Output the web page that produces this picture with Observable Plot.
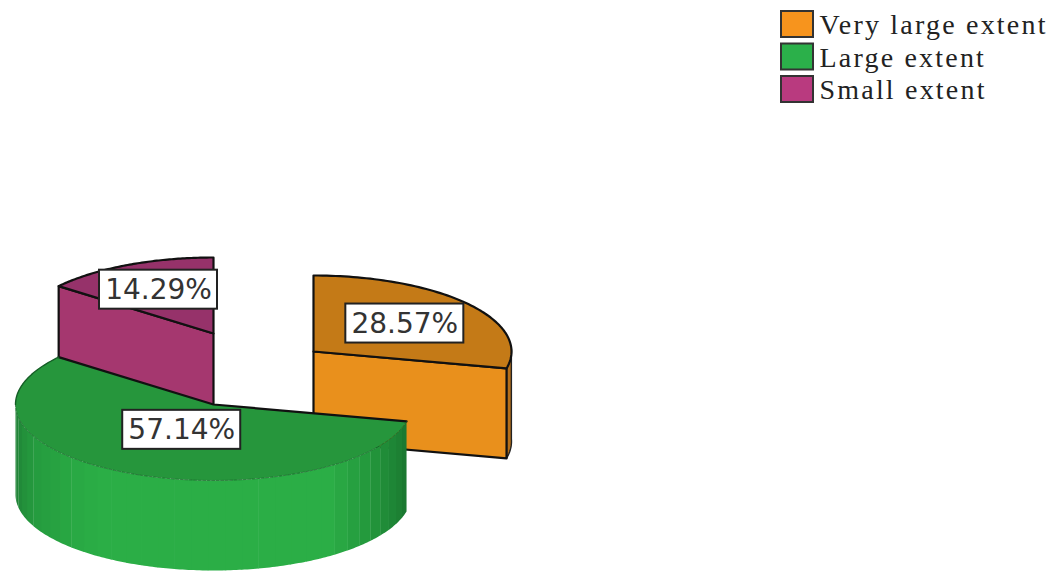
<!DOCTYPE html>
<html>
<head>
<meta charset="utf-8">
<script src="https://cdn.jsdelivr.net/npm/d3@7"></script>
<script src="https://cdn.jsdelivr.net/npm/@observablehq/plot@0.6"></script>
<style>
  html, body { margin: 0; padding: 0; background: #fff; }
  svg { display: block; }
  .legend-text text { letter-spacing: 2.2px; }
</style>
</head>
<body>
<div id="chart"></div>
<script>
// Responses, in clockwise order from twelve o'clock
const categories = ["Very large extent", "Large extent", "Small extent"];
const shares = [28.57, 57.14, 14.29];

// Colours per category
const legendFills = ["#F7941D", "#2BB04A", "#B93A7F"];
const topFills = ["#C47A17", "#26963C", "#96326A"];
const faceFills = ["#E9901C", "#2BAE46", "#A5376F"];

// Tilted-disc geometry and how far each wedge is pulled out of the pie
const W = 1063, H = 571;
const centre = [213, 404], rx = 198, ry = 76, depth = 90;
const pullX = [100, 0, 0];
const pullY = [-53, 0, -71];
const labelReach = [0.59, 0.37, 0.64];
const labelHalfW = 59, labelHalfH = 19.5;

const toRad = Math.PI / 180;
const pie = d3.pie().sort(null).value(d => d)(shares);

const rim = (i, a, drop = 0) => ({
  x: centre[0] + pullX[i] + rx * Math.sin(a),
  y: centre[1] + pullY[i] - ry * Math.cos(a) + drop
});
const apex = (i, drop = 0) => ({x: centre[0] + pullX[i], y: centre[1] + pullY[i] + drop});
const arcPoints = (i, a0, a1, drop = 0, n = 80) =>
  d3.range(n + 1).map(k => rim(i, a0 + (a1 - a0) * k / n, drop));

// One filled outline per visible surface
const poly = (points, fill, stroke = "none", strokeWidth = 2.2) =>
  Plot.line(points, {x: "x", y: "y", fill, stroke, strokeWidth, curve: "linear-closed"});
const open = (points, stroke, strokeWidth, extra = {}) =>
  Plot.line(points, {x: "x", y: "y", stroke, strokeWidth, ...extra});

function cutFace(i, a) {
  return poly([apex(i), rim(i, a), rim(i, a, depth), apex(i, depth)], faceFills[i], "#111");
}
function topFace(i, stroke = "#111") {
  return poly([apex(i), ...arcPoints(i, pie[i].startAngle, pie[i].endAngle)], topFills[i], stroke);
}

// Banded shading along the green outer wall: dark at both ends, bright in the middle
function greenWall() {
  const a0 = pie[1].startAngle, a1 = 270 * toRad, bands = 34;
  const shade = d3.scaleLinear()
    .domain([0, 0.12, 0.25, 0.67, 0.85, 0.95, 1])
    .range(["#1A7630", "#219039", "#2BAE46", "#2BAE46", "#259B3E", "#208537", "#1F7F34"]);
  return d3.range(bands).map(b => {
    const s = a0 + (a1 - a0) * b / bands, e = a0 + (a1 - a0) * (b + 1.03) / bands;
    const top = arcPoints(1, s, e, 0, 6);
    const bottom = arcPoints(1, e, s, depth, 6);
    return poly([...top, ...bottom], shade((b + 0.5) / bands));
  });
}

// Value boxes sit along each wedge's bisector
const labels = pie.map((p, i) => {
  const mid = (p.startAngle + p.endAngle) / 2;
  const cx = centre[0] + pullX[i] + labelReach[i] * rx * Math.sin(mid);
  const cy = centre[1] + pullY[i] - labelReach[i] * ry * Math.cos(mid);
  return {
    text: shares[i].toFixed(2) + "%", cx, cy,
    x1: cx - labelHalfW, x2: cx + labelHalfW, y1: cy - labelHalfH, y2: cy + labelHalfH
  };
});

// Legend rows
const legend = categories.map((name, i) => ({
  name, fill: legendFills[i],
  x1: 781, x2: 813, y1: 11 + i * 32.5, y2: 37 + i * 32.5, ty: 25 + i * 32.5
}));

const chart = Plot.plot({
  width: W,
  height: H,
  margin: 0,
  x: {axis: null, domain: [0, W]},
  y: {axis: null, domain: [H, 0]},
  marks: [
    // Small extent, furthest back
    cutFace(2, pie[2].startAngle),
    topFace(2),
    // Very large extent: outer wall sliver, cut face, top
    poly([...arcPoints(0, 88 * toRad, pie[0].endAngle, 0, 12), ...arcPoints(0, pie[0].endAngle, 88 * toRad, depth, 12)], "#B5701A", "#222", 1.4),
    cutFace(0, pie[0].endAngle),
    topFace(0),
    // Large extent, in front of everything
    ...greenWall(),
    topFace(1, "none"),
    open([rim(1, pie[1].endAngle), apex(1), rim(1, pie[1].startAngle)], "#111", 2.2),
    open(arcPoints(1, 270 * toRad, pie[1].endAngle, 0, 30), "#155E26", 1.4),
    open(arcPoints(1, pie[1].startAngle, 270 * toRad), "#155E26", 0.8, {strokeDasharray: "3 1.5", strokeOpacity: 0.8}),
    // Value boxes
    Plot.rect(labels, {x1: "x1", x2: "x2", y1: "y1", y2: "y2", fill: "#fff", stroke: "#222", strokeWidth: 2}),
    Plot.text(labels, {x: "cx", y: "cy", text: "text", fontFamily: "DejaVu Sans", fontSize: 28, fill: "#333"}),
    // Legend
    Plot.rect(legend, {x1: "x1", x2: "x2", y1: "y1", y2: "y2", fill: "fill", stroke: "#333", strokeWidth: 2}),
    Plot.text(legend, {
      x: 819, y: "ty", text: "name", textAnchor: "start",
      fontFamily: "Liberation Serif", fontSize: 28, fill: "#222", className: "legend-text"
    })
  ]
});
document.getElementById("chart").append(chart);
</script>
</body>
</html>
